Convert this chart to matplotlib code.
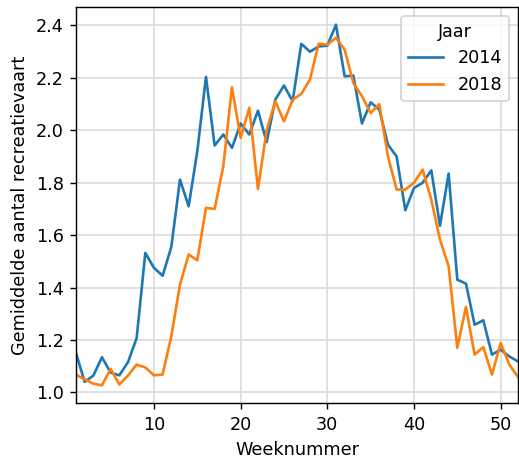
import matplotlib
matplotlib.use("Agg")
import matplotlib.pyplot as plt

# weeknummers
weeks = list(range(1, 53))
# gemiddeld aantal recreatievaart per week
vaart_2014 = [1.15, 1.04, 1.064, 1.134, 1.075, 1.065, 1.115, 1.207, 1.532, 1.475,
              1.445, 1.555, 1.812, 1.71, 1.92, 2.204, 1.942, 1.984, 1.933, 2.026,
              1.984, 2.075, 1.955, 2.117, 2.171, 2.111, 2.33, 2.30, 2.32, 2.323,
              2.403, 2.206, 2.209, 2.026, 2.107, 2.079, 1.945, 1.90, 1.695, 1.78,
              1.80, 1.847, 1.636, 1.835, 1.43, 1.415, 1.258, 1.275, 1.144, 1.163,
              1.137, 1.118]
vaart_2018 = [1.067, 1.05, 1.033, 1.027, 1.09, 1.03, 1.064, 1.106, 1.095, 1.065,
              1.068, 1.214, 1.411, 1.526, 1.504, 1.704, 1.70, 1.863, 2.164, 1.971,
              2.086, 1.776, 2.0, 2.111, 2.034, 2.117, 2.139, 2.194, 2.33, 2.327,
              2.353, 2.308, 2.181, 2.13, 2.066, 2.10, 1.90, 1.774, 1.774, 1.80,
              1.85, 1.735, 1.583, 1.481, 1.17, 1.326, 1.144, 1.173, 1.068, 1.188,
              1.106, 1.059]
years = ["2014", "2018"]

dpi = 127
fig = plt.figure(figsize=(519 / dpi, 464 / dpi), dpi=dpi)
ax = fig.add_axes([0.1464, 0.1308, 0.8516, 0.8548])
ax.plot(weeks, vaart_2014, color="tab:blue", lw=1.5, label=years[0])
ax.plot(weeks, vaart_2018, color="tab:orange", lw=1.5, label=years[1])
ax.set_xlim(1, 52)
ax.grid(True, color="#dddddd", lw=1)
ax.set_axisbelow(True)
ax.set_xlabel("Weeknummer")
ax.set_ylabel("Gemiddelde aantal recreatievaart")
ax.legend(title="Jaar", loc="upper right")
fig.savefig("out.png", dpi=dpi)
